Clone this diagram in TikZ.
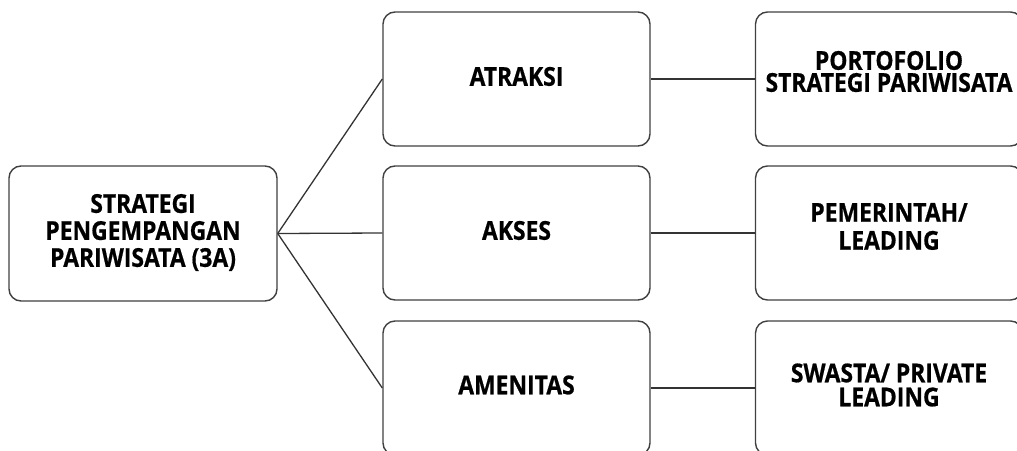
\documentclass[tikz,border=0pt]{standalone}
\usepackage{fontspec}
\setmainfont{Open Sans}[BoldFeatures={FakeStretch=0.88,FakeBold=0.6}]
\begin{document}
\begin{tikzpicture}[x=1pt,y=1pt,
  box/.style={draw=black!75, line width=1.4pt, rounded corners=12pt, fill=white,
    minimum width=267pt, minimum height=134pt, inner sep=0pt},
  txt/.style={align=center, inner sep=0pt, font=\bfseries\fontsize{26}{27}\selectfont},
  link/.style={draw=black!80, line width=1.3pt}]
\useasboundingbox (0,0) rectangle (1017,-450);
\clip (0,0) rectangle (1017,-450);
\node[box, minimum width=268pt, minimum height=135pt] (root) at (143,-233.5) {};
\node[box] (atr) at (516.5,-79) {};
\node[box] (aks) at (516.5,-233) {};
\node[box] (ame) at (516.5,-388) {};
\node[box] (port) at (889,-79) {};
\node[box] (pem) at (889,-233) {};
\node[box] (swa) at (889,-388) {};
\node[txt] (rootT) at ([yshift=1]root.center) {STRATEGI\\PENGEMPANGAN\\PARIWISATA (3A)};
\node[txt] (atrT) at ([yshift=2.5]atr.center) {ATRAKSI};
\node[txt] (aksT) at ([yshift=2.5]aks.center) {AKSES};
\node[txt] (ameT) at ([yshift=3]ame.center) {AMENITAS};
\node[txt, font=\bfseries\fontsize{26}{22}\selectfont] (portT) at ([yshift=7.5]port.center) {PORTOFOLIO\\STRATEGI PARIWISATA};
\node[txt, font=\bfseries\fontsize{26}{28}\selectfont] (pemT) at ([yshift=6.5]pem.center) {PEMERINTAH/\\LEADING};
\node[txt, font=\bfseries\fontsize{26}{24}\selectfont] (swaT) at ([yshift=3]swa.center) {SWASTA/ PRIVATE\\LEADING};
\draw[link] (root.east) -- (atr.west);
\draw[link] (root.east) -- (aks.west);
\draw[link] (root.east) -- (ame.west);
\draw[link] (atr.east) -- (port.west);
\draw[link] (aks.east) -- (pem.west);
\draw[link] (ame.east) -- (swa.west);
\end{tikzpicture}
\end{document}
